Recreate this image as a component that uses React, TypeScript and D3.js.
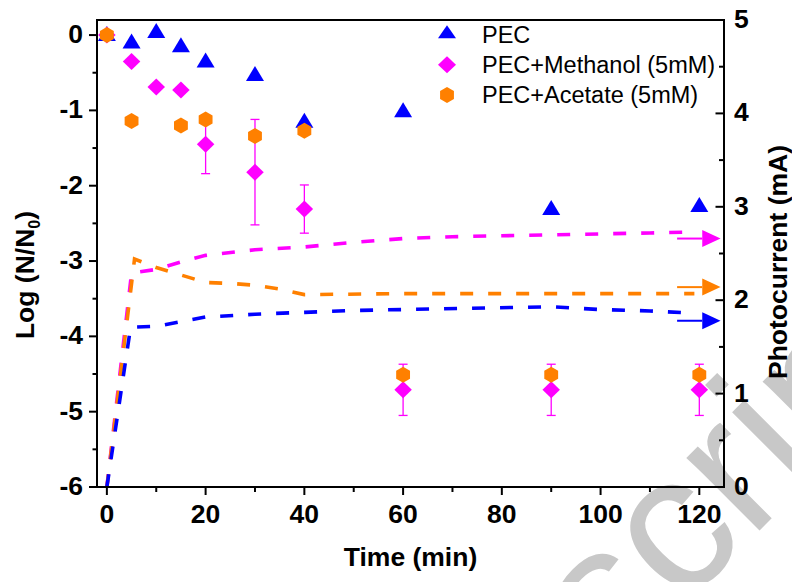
import React from 'react';
import * as d3 from 'd3';

// ---------- data ----------
const pecTime = [0, 5, 10, 15, 20, 30, 40, 60, 90, 120];
const pecLog = [0, -0.1, 0.04, -0.15, -0.35, -0.53, -1.15, -1.01, -2.31, -2.27];

const methTime = [0, 5, 10, 15, 20, 30, 40, 60, 90, 120];
const methLog = [0, -0.35, -0.69, -0.73, -1.45, -1.82, -2.31, -4.71, -4.71, -4.71];
const methErr = [0, 0, 0, 0, 0.39, 0.7, 0.32, 0.34, 0.34, 0.34];

const acTime = [0, 5, 15, 20, 30, 40, 60, 90, 120];
const acLog = [0, -1.14, -1.2, -1.12, -1.34, -1.27, -4.51, -4.51, -4.51];

// photocurrent (mA), right axis
const pecCurT = [0, 4.8, 10, 15, 20, 30, 40, 50, 60, 90, 100, 110, 119];
const pecCurV = [0, 1.71, 1.72, 1.77, 1.82, 1.85, 1.87, 1.89, 1.9, 1.93, 1.9, 1.885, 1.86];

const methCurT = [0, 5, 10, 15, 20, 30, 40, 50, 60, 70, 80, 90, 100, 110, 119];
const methCurV = [0, 2.29, 2.33, 2.41, 2.48, 2.54, 2.57, 2.62, 2.66, 2.68, 2.69, 2.7, 2.71, 2.72, 2.73];

const acCurT = [0, 5.6, 10, 15, 20, 25, 30, 35, 40, 60, 90, 119];
const acCurV = [0, 2.44, 2.35, 2.27, 2.19, 2.18, 2.16, 2.12, 2.06, 2.07, 2.07, 2.07];

// arrows pointing to right axis
const arrowLevels = [2.66, 2.14, 1.78];
const arrowColors = ['#ff00ff', '#ff8000', '#0000ff'];
const arrowStart = 115.5;
const arrowHeadBase = 120.6;
const arrowTip = 124.3;

const xTicks = [0, 20, 40, 60, 80, 100, 120];
const xMinor = [10, 30, 50, 70, 90, 110];
const yLTicks = [0, -1, -2, -3, -4, -5, -6];
const yLMinor = [-0.5, -1.5, -2.5, -3.5, -4.5, -5.5];
const yRTicks = [0, 1, 2, 3, 4, 5];
const yRMinor = [0.5, 1.5, 2.5, 3.5, 4.5];

const legendLabels = ['PEC', 'PEC+Methanol (5mM)', 'PEC+Acetate (5mM)'];

const BLUE = '#0000ff';
const MAGENTA = '#ff00ff';
const ORANGE = '#ff8000';
const FONT = '"Liberation Sans", Arial, Helvetica, sans-serif';

function triPath(cx: number, cy: number, w: number, h: number) {
  return `M${cx},${cy - h * 0.6}L${cx + w / 2},${cy + h * 0.4}L${cx - w / 2},${cy + h * 0.4}Z`;
}
function diaPath(cx: number, cy: number, w: number, h: number) {
  return `M${cx},${cy - h / 2}L${cx + w / 2},${cy}L${cx},${cy + h / 2}L${cx - w / 2},${cy}Z`;
}
function hexPath(cx: number, cy: number, r: number) {
  const pts = d3.range(6).map((i) => {
    const a = (Math.PI / 3) * i - Math.PI / 2;
    return [cx + r * Math.cos(a), cy + r * Math.sin(a)];
  });
  return 'M' + pts.map((p) => p.join(',')).join('L') + 'Z';
}

export default function App() {
  const W = 792;
  const H = 582;
  const x = d3.scaleLinear().domain([-2, 125]).range([97, 724]);
  const yL = d3.scaleLinear().domain([-6, 0.2]).range([487, 20]);
  const yR = d3.scaleLinear().domain([0, 5]).range([487, 20]);
  const [x0, x1] = x.range();
  const [yb, yt] = yL.range();

  const line = d3
    .line<[number, number]>()
    .x((d) => x(d[0]))
    .y((d) => yR(d[1]));

  const curves = [
    { t: methCurT, v: methCurV, c: MAGENTA },
    { t: acCurT, v: acCurV, c: ORANGE },
    { t: pecCurT, v: pecCurV, c: BLUE },
  ];

  const titleSize = 26.5;
  const tickSize = 26.5;

  return (
    <svg
      width={W}
      height={H}
      viewBox={`0 0 ${W} ${H}`}
      style={{ position: 'absolute', left: 0, top: 0, background: '#fff' }}
      fontFamily={FONT}
    >
      <rect x={0} y={0} width={W} height={H} fill="#fff" />
      {/* watermark */}
      <text
        transform="translate(612,678) rotate(-45)"
        fontSize={195}
        fill="#c8c8c8"
        fontFamily={FONT}
      >
        script
      </text>

      {/* dashed photocurrent curves */}
      {curves.map((c, i) => (
        <path
          key={'c' + i}
          d={line(c.t.map((t, j) => [t, c.v[j]] as [number, number])) || ''}
          fill="none"
          stroke={c.c}
          strokeWidth={3.6}
          strokeDasharray="13 15"
        />
      ))}

      {/* arrows */}
      {arrowLevels.map((lv, i) => (
        <g key={'a' + i}>
          <line
            x1={x(arrowStart)}
            x2={x(arrowHeadBase)}
            y1={yR(lv)}
            y2={yR(lv)}
            stroke={arrowColors[i]}
            strokeWidth={2}
          />
          <path
            d={`M${x(arrowHeadBase)},${yR(lv) - 8.5}L${x(arrowTip)},${yR(lv)}L${x(arrowHeadBase)},${yR(lv) + 8.5}Z`}
            fill={arrowColors[i]}
          />
        </g>
      ))}

      {/* PEC triangles */}
      {pecTime.map((t, i) => (
        <path key={'p' + i} d={triPath(x(t), yL(pecLog[i]), 18, 15)} fill={BLUE} />
      ))}

      {/* methanol error bars + diamonds */}
      {methTime.map((t, i) =>
        methErr[i] > 0 ? (
          <g key={'e' + i} stroke={MAGENTA} strokeWidth={1.3}>
            <line x1={x(t)} x2={x(t)} y1={yL(methLog[i] + methErr[i])} y2={yL(methLog[i] - methErr[i])} />
            <line x1={x(t) - 4.5} x2={x(t) + 4.5} y1={yL(methLog[i] + methErr[i])} y2={yL(methLog[i] + methErr[i])} />
            <line x1={x(t) - 4.5} x2={x(t) + 4.5} y1={yL(methLog[i] - methErr[i])} y2={yL(methLog[i] - methErr[i])} />
          </g>
        ) : null
      )}
      {methTime.map((t, i) => (
        <path key={'m' + i} d={diaPath(x(t), yL(methLog[i]), 17.5, 17)} fill={MAGENTA} />
      ))}

      {/* acetate hexagons */}
      {acTime.map((t, i) => (
        <path key={'h' + i} d={hexPath(x(t), yL(acLog[i]), 8)} fill={ORANGE} />
      ))}

      {/* frame */}
      <rect x={x0} y={yt} width={x1 - x0} height={yb - yt} fill="none" stroke="#000" strokeWidth={2} />

      {/* bottom axis */}
      {xTicks.map((t) => (
        <g key={'xt' + t}>
          <line x1={x(t)} x2={x(t)} y1={yb} y2={yb + 8} stroke="#000" strokeWidth={2} />
          <text x={x(t)} y={523} textAnchor="middle" fontSize={tickSize} fontWeight="bold">
            {t}
          </text>
        </g>
      ))}
      {xMinor.map((t) => (
        <line key={'xm' + t} x1={x(t)} x2={x(t)} y1={yb} y2={yb + 5} stroke="#000" strokeWidth={2} />
      ))}

      {/* left axis */}
      {yLTicks.map((v) => (
        <g key={'yl' + v}>
          <line x1={x0 - 8} x2={x0} y1={yL(v)} y2={yL(v)} stroke="#000" strokeWidth={2} />
          <text x={83} y={yL(v) + 8} textAnchor="end" fontSize={tickSize} fontWeight="bold">
            {String(v).replace('\u2212', '-')}
          </text>
        </g>
      ))}
      {yLMinor.map((v) => (
        <line key={'ylm' + v} x1={x0 - 4.5} x2={x0} y1={yL(v)} y2={yL(v)} stroke="#000" strokeWidth={2} />
      ))}

      {/* right axis (ticks inward) */}
      {yRTicks.map((v) => (
        <g key={'yr' + v}>
          <line x1={x1 - 8.5} x2={x1} y1={yR(v)} y2={yR(v)} stroke="#000" strokeWidth={2} />
          <text x={734} y={yR(v) + 8} textAnchor="start" fontSize={tickSize} fontWeight="bold">
            {v}
          </text>
        </g>
      ))}
      {yRMinor.map((v) => (
        <line key={'yrm' + v} x1={x1 - 5} x2={x1} y1={yR(v)} y2={yR(v)} stroke="#000" strokeWidth={2} />
      ))}

      {/* axis titles */}
      <text x={(x0 + x1) / 2} y={566} textAnchor="middle" fontSize={titleSize} fontWeight="bold">
        Time (min)
      </text>
      <text transform="translate(34,275) rotate(-90)" textAnchor="middle" fontSize={titleSize} fontWeight="bold">
        Log (N/N
        <tspan fontSize={16} dy={6}>0</tspan>
        <tspan dy={-6}>)</tspan>
      </text>
      <text transform="translate(787,262) rotate(-90)" textAnchor="middle" fontSize={titleSize} fontWeight="bold">
        Photocurrent (mA)
      </text>

      {/* legend */}
      <path d={triPath(447, 33, 18, 13)} fill={BLUE} />
      <path d={diaPath(447, 64.7, 18, 17)} fill={MAGENTA} />
      <path d={hexPath(447, 95, 8)} fill={ORANGE} />
      {legendLabels.map((s, i) => (
        <text key={'lg' + i} x={482} y={43 + i * 30} fontSize={23.5}>
          {s}
        </text>
      ))}
    </svg>
  );
}
